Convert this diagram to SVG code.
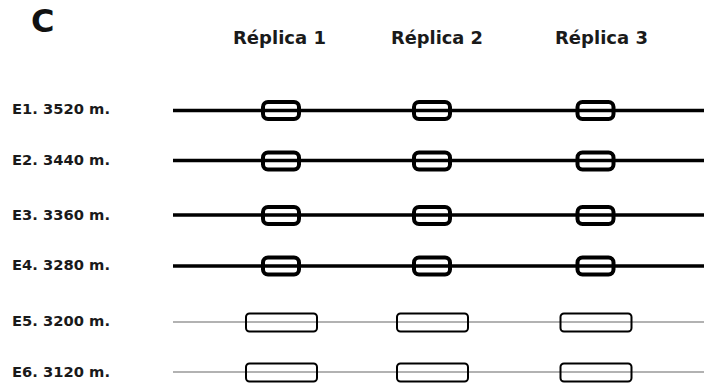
<svg xmlns="http://www.w3.org/2000/svg" width="704" height="383" viewBox="0 0 704 383">
<style>
.lbl{font-family:"DejaVu Sans","Liberation Sans",sans-serif;font-weight:bold;font-size:14.5px;fill:#1a1a1a}
.hdr{font-family:"DejaVu Sans","Liberation Sans",sans-serif;font-weight:bold;font-size:17px;fill:#1a1a1a}
.thick{stroke:#000;stroke-width:3.5;fill:none}
.thin{stroke:#999;stroke-width:1.5;fill:none}
.bbox{stroke:#000;stroke-width:4;fill:none}
.tbox{stroke:#000;stroke-width:2;fill:none}
</style>
<rect width="704" height="383" fill="#fff"/>
<text x="31" y="32" font-family="DejaVu Sans, sans-serif" font-weight="bold" font-size="32" fill="#111">C</text>
<g id="headers">
<text class="hdr" x="279.5" y="44" text-anchor="middle" textLength="93" lengthAdjust="spacingAndGlyphs">Réplica 1</text>
<text class="hdr" x="437" y="44" text-anchor="middle" textLength="92" lengthAdjust="spacingAndGlyphs">Réplica 2</text>
<text class="hdr" x="601.5" y="44" text-anchor="middle" textLength="93" lengthAdjust="spacingAndGlyphs">Réplica 3</text>
</g>
<g id="labels">
<text class="lbl" x="12" y="114" textLength="98" lengthAdjust="spacingAndGlyphs">E1. 3520 m.</text>
<text class="lbl" x="12" y="164.5" textLength="98" lengthAdjust="spacingAndGlyphs">E2. 3440 m.</text>
<text class="lbl" x="12" y="219.5" textLength="98" lengthAdjust="spacingAndGlyphs">E3. 3360 m.</text>
<text class="lbl" x="12" y="270" textLength="98" lengthAdjust="spacingAndGlyphs">E4. 3280 m.</text>
<text class="lbl" x="12" y="326" textLength="98" lengthAdjust="spacingAndGlyphs">E5. 3200 m.</text>
<text class="lbl" x="12" y="376.5" textLength="98" lengthAdjust="spacingAndGlyphs">E6. 3120 m.</text>
</g>
<g id="connectors">
<line class="thick" x1="173" y1="110.5" x2="704" y2="110.5"/>
<line class="thick" x1="173" y1="160.5" x2="704" y2="160.5"/>
<line class="thick" x1="173" y1="215" x2="704" y2="215"/>
<line class="thick" x1="173" y1="266" x2="704" y2="266"/>
<line class="thin" x1="173" y1="322" x2="704" y2="322"/>
<line class="thin" x1="173" y1="372" x2="704" y2="372"/>
</g>
<g id="E1">
<rect class="bbox" x="263" y="102" width="36" height="17" rx="5"/>
<rect class="bbox" x="414" y="102" width="36" height="17" rx="5"/>
<rect class="bbox" x="577.5" y="102" width="36" height="17" rx="5"/>
</g>
<g id="E2">
<rect class="bbox" x="263" y="152.5" width="36" height="17" rx="5"/>
<rect class="bbox" x="414" y="152.5" width="36" height="17" rx="5"/>
<rect class="bbox" x="577.5" y="152.5" width="36" height="17" rx="5"/>
</g>
<g id="E3">
<rect class="bbox" x="263" y="207" width="36" height="17" rx="5"/>
<rect class="bbox" x="414" y="207" width="36" height="17" rx="5"/>
<rect class="bbox" x="577.5" y="207" width="36" height="17" rx="5"/>
</g>
<g id="E4">
<rect class="bbox" x="263" y="257.5" width="36" height="17" rx="5"/>
<rect class="bbox" x="414" y="257.5" width="36" height="17" rx="5"/>
<rect class="bbox" x="577.5" y="257.5" width="36" height="17" rx="5"/>
</g>
<g id="E5">
<rect class="tbox" x="246" y="313.5" width="71" height="18" rx="3.5"/>
<rect class="tbox" x="397" y="313.5" width="71" height="18" rx="3.5"/>
<rect class="tbox" x="560.5" y="313.5" width="71" height="18" rx="3.5"/>
</g>
<g id="E6">
<rect class="tbox" x="246" y="363.5" width="71" height="18" rx="3.5"/>
<rect class="tbox" x="397" y="363.5" width="71" height="18" rx="3.5"/>
<rect class="tbox" x="560.5" y="363.5" width="71" height="18" rx="3.5"/>
</g>
</svg>
